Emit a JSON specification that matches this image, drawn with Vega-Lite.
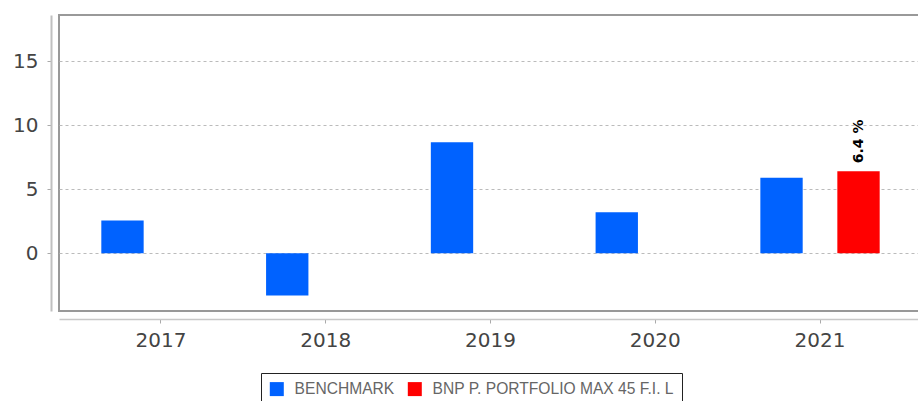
{
  "$schema": "https://vega.github.io/schema/vega-lite/v6.json",
  "autosize": {"type": "none"},
  "padding": {"left": 59, "top": 15, "right": 0, "bottom": 90},
  "width": 863,
  "height": 296,
  "background": "white",
  "data": {
    "values": [
      {"year": "2017", "series": "BENCHMARK", "value": 2.55, "label": null},
      {"year": "2018", "series": "BENCHMARK", "value": -3.3, "label": null},
      {"year": "2019", "series": "BENCHMARK", "value": 8.66, "label": null},
      {"year": "2020", "series": "BENCHMARK", "value": 3.2, "label": null},
      {"year": "2021", "series": "BENCHMARK", "value": 5.88, "label": null},
      {"year": "2021", "series": "BNP P. PORTFOLIO MAX 45 F.I. L", "value": 6.4, "label": "6.4 %"}
    ]
  },
  "encoding": {
    "x": {
      "field": "year", "type": "nominal",
      "scale": {"paddingInner": 0, "paddingOuter": 0.119},
      "axis": {
        "title": null, "labelAngle": 0, "offset": 8,
        "domainColor": "#c8c8c8", "domainWidth": 1.5,
        "tickColor": "#aaaaaa", "tickSize": 4,
        "labelFont": "DejaVu Sans", "labelFontSize": 20, "labelColor": "#444444",
        "labelPadding": 7, "grid": false
      }
    },
    "xOffset": {
      "field": "series", "type": "nominal",
      "scale": {"domain": ["BENCHMARK", "BNP P. PORTFOLIO MAX 45 F.I. L"], "paddingInner": 0.45, "paddingOuter": 0.295}
    },
    "y": {
      "field": "value", "type": "quantitative",
      "scale": {"domain": [-4.52, 18.6], "nice": false, "zero": false},
      "axis": {
        "title": null, "values": [0, 5, 10, 15], "offset": 8,
        "domainColor": "#c0c0c0", "domainWidth": 2,
        "tickColor": "#aaaaaa", "tickSize": 4,
        "labelFont": "DejaVu Sans", "labelFontSize": 20, "labelColor": "#444444",
        "labelPadding": 9,
        "grid": true, "gridColor": "#bbbbbb", "gridDash": [3, 3], "gridWidth": 1
      }
    }
  },
  "layer": [
    {
      "mark": {"type": "bar"},
      "encoding": {
        "color": {
          "field": "series", "type": "nominal",
          "scale": {"domain": ["BENCHMARK", "BNP P. PORTFOLIO MAX 45 F.I. L"], "range": ["#0062ff", "#ff0000"]},
          "legend": {
            "title": null, "orient": "none", "legendX": 202, "legendY": 358,
            "direction": "horizontal",
            "strokeColor": "#222222", "padding": 8,
            "symbolType": "square", "symbolSize": 196, "symbolStrokeWidth": 0,
            "labelFont": "Liberation Sans", "labelFontSize": 15.6, "labelColor": "#666666",
            "labelLimit": 500,
            "labelOffset": 10, "columnPadding": 12
          }
        }
      }
    },
    {
      "transform": [{"filter": "datum.label != null"}],
      "mark": {"type": "text", "angle": 270, "align": "left", "baseline": "middle", "dx": 8, "font": "DejaVu Sans", "fontSize": 14, "fontWeight": "bold", "color": "black"},
      "encoding": {"text": {"field": "label"}}
    }
  ],
  "config": {
    "view": {"stroke": "#999999", "strokeWidth": 2}
  }
}
